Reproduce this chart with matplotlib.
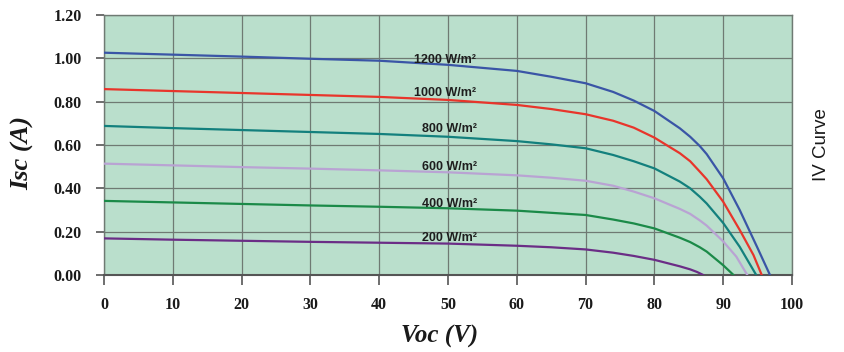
import matplotlib.pyplot as plt

# readings (voltage V, current A)
v_1200 = [0, 10, 20, 30, 40, 50, 60, 65, 70, 74, 77, 80, 83.7, 85.2, 86.6, 87.6, 90, 92.4, 94.9, 96.0, 96.8]
i_1200 = [1.026, 1.017, 1.008, 0.998, 0.989, 0.970, 0.942, 0.915, 0.885, 0.845, 0.805, 0.757, 0.677, 0.638, 0.595, 0.558, 0.446, 0.300, 0.131, 0.055, 0.0]

v_1000 = [0, 10, 20, 30, 40, 50, 60, 65, 70, 74, 77, 80, 83.7, 85.2, 86.6, 87.6, 90, 92.4, 94.4, 95.6]
i_1000 = [0.858, 0.849, 0.840, 0.831, 0.822, 0.808, 0.785, 0.766, 0.742, 0.712, 0.680, 0.634, 0.562, 0.525, 0.477, 0.442, 0.338, 0.208, 0.092, 0.0]

v_800 = [0, 10, 20, 30, 40, 50, 60, 65, 70, 74, 77, 80, 83.7, 85.2, 86.6, 87.6, 90, 92.4, 94.8]
i_800 = [0.688, 0.678, 0.669, 0.660, 0.651, 0.638, 0.618, 0.603, 0.585, 0.554, 0.525, 0.492, 0.431, 0.400, 0.361, 0.330, 0.240, 0.130, 0.0]

v_600 = [0, 10, 20, 30, 40, 50, 60, 65, 70, 74, 77, 80, 83.7, 85.2, 86.6, 87.6, 90, 91.9, 93.5]
i_600 = [0.514, 0.506, 0.498, 0.491, 0.483, 0.474, 0.460, 0.449, 0.435, 0.412, 0.385, 0.354, 0.305, 0.282, 0.252, 0.228, 0.155, 0.085, 0.0]

v_400 = [0, 10, 20, 30, 40, 50, 60, 65, 70, 74, 77, 80, 83.7, 85.2, 86.6, 87.6, 90, 91.5]
i_400 = [0.342, 0.335, 0.328, 0.321, 0.315, 0.308, 0.297, 0.287, 0.277, 0.256, 0.238, 0.215, 0.172, 0.152, 0.128, 0.108, 0.045, 0.0]

v_200 = [0, 10, 20, 30, 40, 50, 60, 65, 70, 74, 77, 80, 83.7, 85.2, 86.2, 87.1]
i_200 = [0.169, 0.163, 0.158, 0.153, 0.149, 0.145, 0.135, 0.128, 0.118, 0.103, 0.088, 0.070, 0.040, 0.026, 0.014, 0.0]

labels = ['1200 W/m²', '1000 W/m²', '800 W/m²', '600 W/m²', '400 W/m²', '200 W/m²']
label_x = [45.0, 45.0, 46.2, 46.2, 46.2, 46.2]
label_y = [0.977, 0.828, 0.659, 0.485, 0.315, 0.158]

series = [(v_1200, i_1200), (v_1000, i_1000), (v_800, i_800),
          (v_600, i_600), (v_400, i_400), (v_200, i_200)]
colors = ['#3a55a6', '#e8352b', '#13807d', '#b9a3d3', '#1b8a48', '#6b2d86']

fig = plt.figure(figsize=(8.45, 3.52), dpi=100)
ax = fig.add_axes([104/845, 1 - 275/352, (792 - 104)/845, (275 - 15)/352])
ax.set_facecolor('#badfcc')

for (v, i), c in zip(series, colors):
    ax.plot(v, i, color=c, lw=1.6, zorder=3, solid_joinstyle='round')

for t, x, y in zip(labels, label_x, label_y):
    ax.text(x, y, t, ha='left', va='baseline', fontsize=9, fontweight='bold',
            family='Liberation Sans', color='#1e1e1e', zorder=4)

ax.set_xlim(0, 100)
ax.set_ylim(0, 1.2)
ax.set_xticks(range(0, 101, 10))
ax.set_yticks([0, 0.2, 0.4, 0.6, 0.8, 1.0, 1.2])
ax.set_yticklabels(['%.2f' % t for t in ax.get_yticks()])
ax.grid(True, color='#6f7a73', lw=0.9, zorder=1)
ax.set_axisbelow(True)

for lab in ax.get_xticklabels() + ax.get_yticklabels():
    lab.set_family('Liberation Serif')
    lab.set_fontweight('bold')
    lab.set_fontsize(11.5)
    lab.set_color('#1a1a1a')
ax.tick_params(axis='y', length=6, width=1.2, color='#555555', pad=10)
ax.tick_params(axis='x', length=7.5, width=1.2, color='#555555', pad=8)

for s in ['top', 'right', 'left']:
    ax.spines[s].set_color('#6f7a73')
    ax.spines[s].set_linewidth(1.0)
ax.spines['bottom'].set_color('#555555')
ax.spines['bottom'].set_linewidth(1.5)

fig.text(23/845, 1 - 153/352, 'Isc (A)', rotation=90, ha='center', va='center',
         family='Liberation Serif', fontweight='bold', fontstyle='italic', fontsize=19, color='#1a1a1a')
fig.text(440/845, 1 - 336/352, 'Voc (V)', ha='center', va='center',
         family='Liberation Serif', fontweight='bold', fontstyle='italic', fontsize=18, color='#1a1a1a')
fig.text(822/845, 1 - 145/352, 'IV Curve', rotation=90, ha='center', va='center',
         family='Liberation Sans', fontsize=13.5, color='#1a1a1a')

fig.savefig('out.png', dpi=100)
